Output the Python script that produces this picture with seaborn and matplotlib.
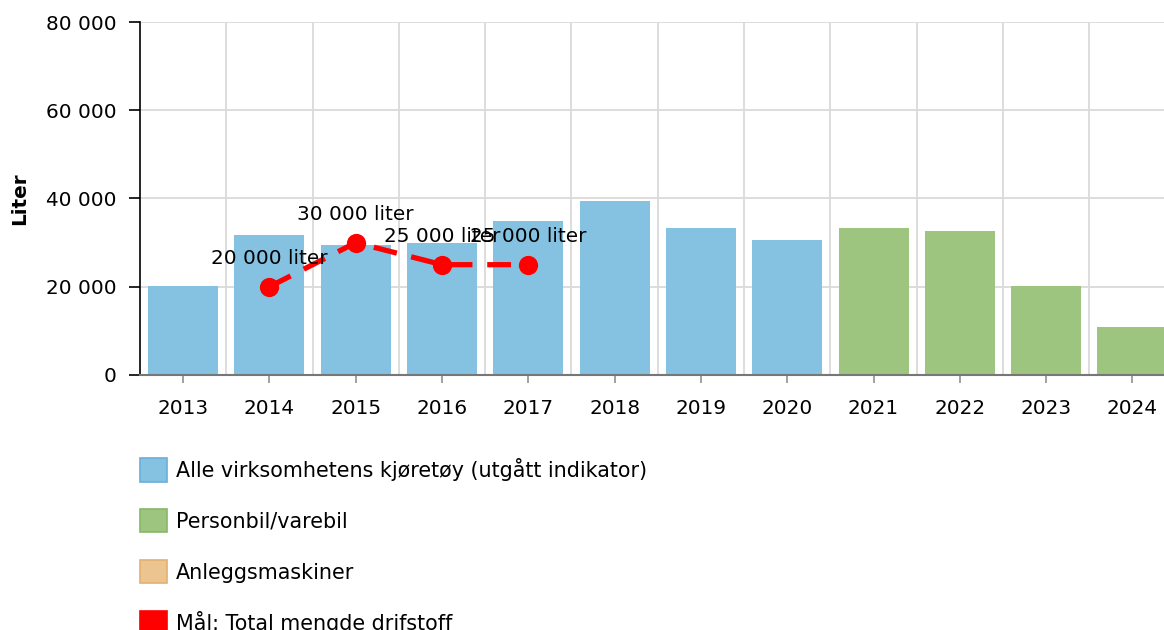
import matplotlib
matplotlib.use("Agg")
import matplotlib.pyplot as plt
import pandas as pd
import seaborn as sns
from matplotlib.patches import Patch
from matplotlib.ticker import FuncFormatter

years = [str(y) for y in range(2013, 2025)]

# Alle virksomhetens kjøretøy (utgått indikator)
alle_years = years[:8]
alle_values = [20200, 31700, 29500, 29900, 34900, 39400, 33300, 30600]

# Personbil/varebil
person_years = years[8:]
person_values = [33300, 32600, 20200, 10900]

# Mål: Total mengde drifstoff
target_years = ["2014", "2015", "2016", "2017"]
target_values = [20000, 30000, 25000, 25000]

series_names = [
    "Alle virksomhetens kjøretøy (utgått indikator)",
    "Personbil/varebil",
    "Anleggsmaskiner",
    "Mål: Total mengde drifstoff",
]
colors = ["#85c2e1", "#9dc57f", "#ebc48f", "#ff0000"]
edges = ["#6aaedb", "#86b866", "#e3b070", "#ff0000"]


def fmt_num(v):
    return f"{int(v):,}".replace(",", " ")


bars = pd.DataFrame({
    "Year": alle_years + person_years,
    "Liter": alle_values + person_values,
    "Serie": [series_names[0]] * len(alle_years) + [series_names[1]] * len(person_years),
})
target = pd.DataFrame({"Year": target_years, "Liter": target_values})

sns.set_style("white")
plt.rcParams["font.family"] = ["DejaVu Sans"]
plt.rcParams["text.color"] = "black"
plt.rcParams["axes.labelcolor"] = "black"
fs = 14.4

fig = plt.figure(figsize=(11.64, 6.30), dpi=100)
ax = fig.add_axes([140 / 1164, 1 - 375 / 630, 1035.6 / 1164, 353 / 630])
ax.set_axisbelow(True)

sns.barplot(
    data=bars, x="Year", y="Liter", hue="Serie", order=years,
    hue_order=series_names[:2], palette=colors[:2], dodge=False,
    width=0.81, saturation=1, linewidth=0, legend=False, ax=ax,
)

sns.pointplot(
    data=target, x="Year", y="Liter", order=years, color=colors[3],
    linestyle="--", marker="o", markersize=11, linewidth=3.8,
    errorbar=None, ax=ax,
)
for line in ax.lines:
    line.set_dashes((4.5, 2.8))
    line.set_zorder(4)

for yr, v in zip(target_years, target_values):
    ax.annotate(
        f"{fmt_num(v)} liter", (years.index(yr), v), xytext=(0, 20),
        textcoords="offset points", ha="center", va="center",
        fontsize=fs, color="black", zorder=6,
    )

ax.set_xlim(-0.5, 11.5)
ax.set_ylim(0, 80000)
ax.set_yticks([0, 20000, 40000, 60000, 80000])
ax.yaxis.set_major_formatter(FuncFormatter(lambda v, p: fmt_num(v)))
ax.set_xticks([i + 0.5 for i in range(11)], minor=True)

ax.yaxis.grid(True, color="#dadada", linewidth=1.3)
ax.xaxis.grid(True, which="minor", color="#dadada", linewidth=1.3)
ax.xaxis.grid(False, which="major")

ax.tick_params(axis="x", which="major", length=6, width=1.3, color="#999999",
               direction="out", pad=11, labelsize=fs, labelcolor="black", bottom=True)
ax.tick_params(axis="x", which="minor", length=0)
ax.tick_params(axis="y", length=8, width=1.2, color="black", direction="out",
               pad=9, labelsize=fs, labelcolor="black", left=True)

ax.set_xlabel("")
ax.set_ylabel("Liter", fontsize=fs, fontweight="bold", labelpad=12, color="black")

for side in ["top", "right"]:
    ax.spines[side].set_visible(False)
ax.spines["left"].set_color("black")
ax.spines["left"].set_linewidth(1.2)
ax.spines["bottom"].set_color("#777777")
ax.spines["bottom"].set_linewidth(1.5)

handles = [Patch(facecolor=c, edgecolor=e, linewidth=1.2, label=n)
           for c, e, n in zip(colors, edges, series_names)]
leg = fig.legend(
    handles=handles, loc="upper left",
    bbox_to_anchor=(140 / 1164, 1 - 458 / 630), frameon=False, fontsize=14.9,
    handlelength=1.3, handleheight=1.35, handletextpad=0.45,
    labelspacing=1.33, borderpad=0, borderaxespad=0,
)
for t in leg.get_texts():
    t.set_color("black")

fig.savefig("out.png", dpi=100)
plt.close()
